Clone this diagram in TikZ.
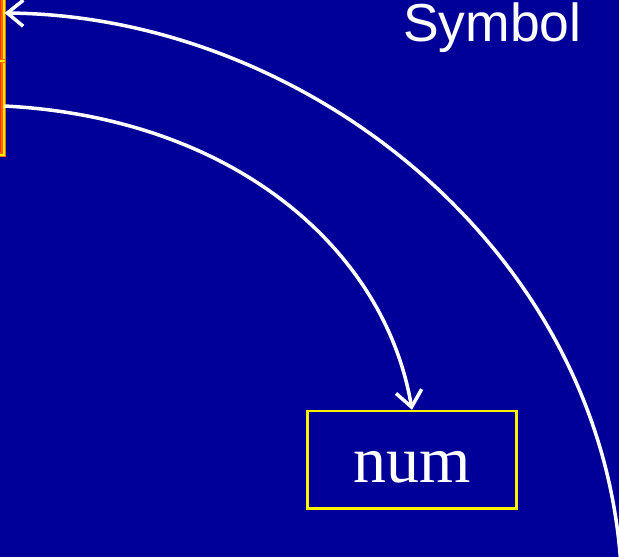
\documentclass[tikz,border=0pt]{standalone}
\usepackage{fontspec}
\setmainfont{Liberation Serif}
\setsansfont{Liberation Sans}
\usetikzlibrary{arrows.meta}
\definecolor{slideblue}{HTML}{000099}
\definecolor{cellred}{HTML}{FF3300}
\definecolor{cellorange}{HTML}{FF6600}

\begin{document}
\begin{tikzpicture}[
  x=1pt,y=-1pt,
  >={Straight Barb[length=16pt,width=26pt,line width=3.5pt]},
  cell/.style={draw=cellorange,double=yellow,double distance=2pt,line width=1.75pt,
    fill=cellred,inner sep=0pt},
  box/.style={draw=yellow,line width=2.5pt,inner sep=0pt,
    minimum width=208.6pt,minimum height=97.3pt},
  link/.style={->,white,line width=3.5pt}
]
  \fill[slideblue] (0,0) rectangle (619,557);
  \useasboundingbox (0,0) rectangle (619,557);

  \node[cell,minimum width=60pt,minimum height=200pt,anchor=south east] (table) at (4.5,155.5) {};
  \coordinate (rowline) at (0,60.5);
  \coordinate (firstrow) at (0,13);
  \coordinate (secondrow) at (0,106);
  \coordinate (offpage) at (622,600);
  \draw[cellorange,double=yellow,double distance=2pt,line width=1pt]
    (table.west |- rowline) -- (table.east |- rowline);

  \node[text=white,anchor=base west,inner sep=0pt,font=\sffamily\fontsize{53.5}{60}\selectfont]
    (symlabel) at (403,41) {Symbol};
  \node[box,text=white,font=\fontsize{66}{70}\selectfont,text height=44.6pt,text depth=0pt]
    (num) at (412,459.7) {num};

  \draw[link] (table.east |- secondrow) .. controls (235,118) and (385,250) .. (num.north);
  \draw[link] (offpage) .. controls (622,265) and (315,16) .. (table.east |- firstrow);
\end{tikzpicture}
\end{document}
